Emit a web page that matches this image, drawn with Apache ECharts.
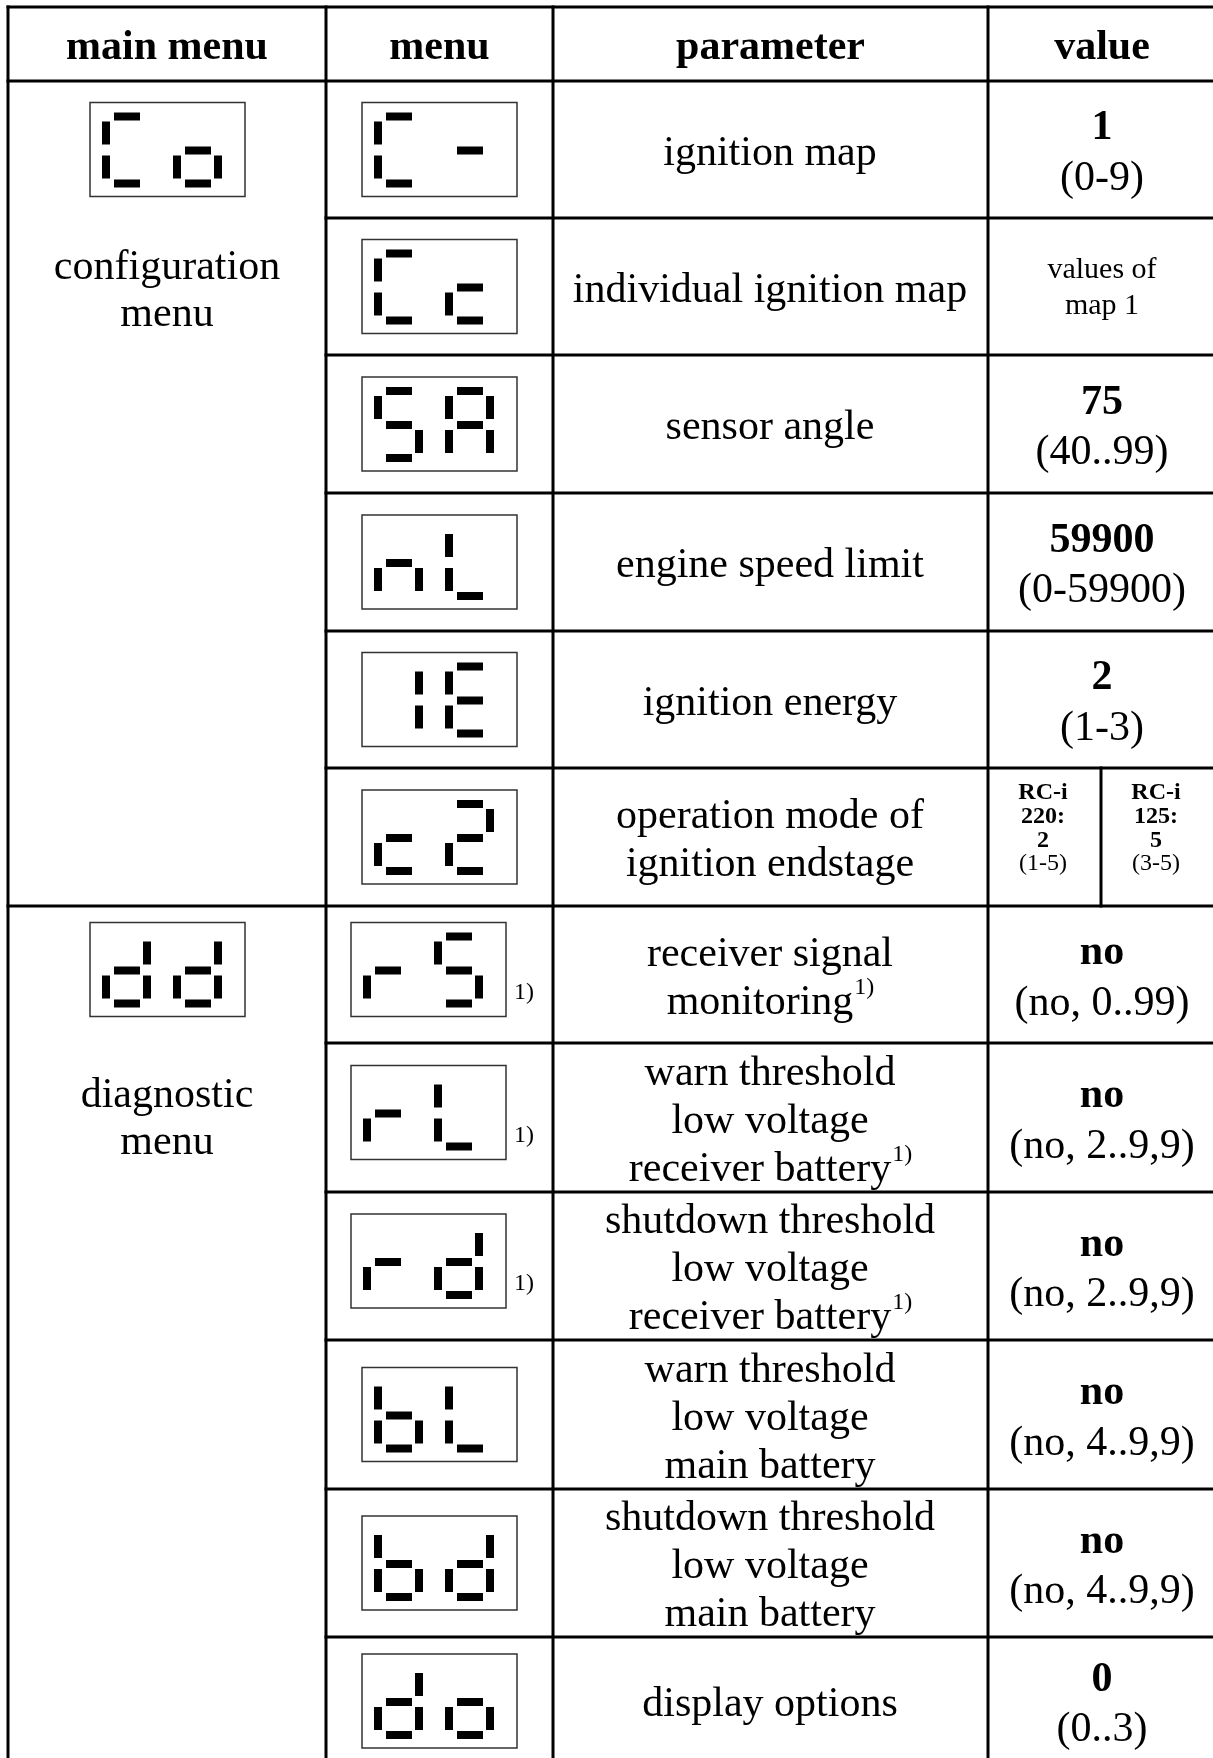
<!DOCTYPE html>
<html><head><meta charset="utf-8">
<script src="https://cdn.jsdelivr.net/npm/echarts@6/dist/echarts.min.js"></script>
<style>html,body{margin:0;padding:0;background:#fff}#c{width:1213px;height:1758px}</style>
</head><body><div id="c"></div>
<script>
// ---------- data ----------
const headers = ['main menu', 'menu', 'parameter', 'value'];
const mainMenuCodes = ['Co', 'dd'];
const mainMenuLabels = [['configuration', 'menu'], ['diagnostic', 'menu']];
const mainMenuFirstRow = [0, 6];
const menuCodes = ['C-', 'Cc', 'SA', 'nL', 'IE', 'c2', 'rS', 'rL', 'rd', 'bL', 'bd', 'do'];
const menuFootnote = [0, 0, 0, 0, 0, 0, 1, 1, 1, 0, 0, 0];
const parameterLines = [
  ['ignition map'],
  ['individual ignition map'],
  ['sensor angle'],
  ['engine speed limit'],
  ['ignition energy'],
  ['operation mode of', 'ignition endstage'],
  ['receiver signal', 'monitoring'],
  ['warn threshold', 'low voltage', 'receiver battery'],
  ['shutdown threshold', 'low voltage', 'receiver battery'],
  ['warn threshold', 'low voltage', 'main battery'],
  ['shutdown threshold', 'low voltage', 'main battery'],
  ['display options']
];
const parameterFootnote = [0, 0, 0, 0, 0, 0, 1, 1, 1, 0, 0, 0];
const valueDefaults = ['1', null, '75', '59900', '2', null, 'no', 'no', 'no', 'no', 'no', '0'];
const valueRanges = ['(0-9)', null, '(40..99)', '(0-59900)', '(1-3)', null, '(no, 0..99)', '(no, 2..9,9)', '(no, 2..9,9)', '(no, 4..9,9)', '(no, 4..9,9)', '(0..3)'];
const valueNoteRow = 1;
const valueNoteLines = ['values of', 'map 1'];
const variantRow = 5;
const variantNames = [['RC-i', '220:'], ['RC-i', '125:']];
const variantDefaults = ['2', '5'];
const variantRanges = ['(1-5)', '(3-5)'];
const footnoteMark = '1)';
// seven-segment glyphs (segments a..g)
const glyphSegments = {
  'C': 'afed', '-': 'g', 'c': 'ged', 'o': 'gecd', 'S': 'afgcd', 'A': 'abcefg',
  'n': 'egc', 'L': 'fed', 'I': 'bc', 'E': 'afged', '2': 'abged', 'r': 'ge',
  'd': 'bgecd', 'b': 'fgecd'
};

// ---------- layout ----------
const LAY = {
  colX: [8, 326, 553, 988, 1216],
  top: 7,
  headerBottom: 81,
  rowY: [81, 218, 355, 493, 631, 768, 906, 1043, 1192, 1340, 1489, 1637, 1765],
  splitX: 1101,
  boxW: 155, boxH: 94,
  menuBoxX: 362, menuBoxXFoot: 351,
  mainBoxX: 90,
  mainLabelOffset: [71, 79],
  footOffset: -5,
  digitX: [12, 83],
  seg: { a: [12, 10, 26, 8], b: [41, 19, 8, 23], c: [41, 53, 8, 23], d: [12, 77, 26, 8], e: [0, 53, 8, 23], f: [0, 19, 8, 23], g: [12, 44, 26, 8] },
  paramX: 770, valueX: 1102, variantX: [1043, 1156],
  lineH: 48, valueGap: 50, textDy: 4, headerY: 48
};
const SERIF = '"Liberation Serif", "Times New Roman", serif';
const F_MAIN = '42px ' + SERIF;
const F_BOLD = 'bold 42px ' + SERIF;
const F_SUP = '24px ' + SERIF;

const measureCtx = document.createElement('canvas').getContext('2d');
function textW(t, font) { measureCtx.font = font; return measureCtx.measureText(t).width; }

function txt(api, x, y, t, font, align) {
  const p = api.coord([x, y]);
  return { type: 'text', style: { text: t, x: p[0], y: p[1], font: font, fill: '#000',
    textAlign: align || 'center', textVerticalAlign: 'middle', align: align || 'center', verticalAlign: 'middle' } };
}
function rect(api, x, y, w, h, style) {
  const p0 = api.coord([x, y]), p1 = api.coord([x + w, y + h]);
  return { type: 'rect', shape: { x: p0[0], y: p0[1], width: p1[0] - p0[0], height: p1[1] - p0[1] }, style: style };
}
function display(api, bx, by, code) {
  const ch = [rect(api, bx, by, LAY.boxW, LAY.boxH, { fill: '#fff', stroke: '#333', lineWidth: 1.5 })];
  for (let i = 0; i < code.length; i++) {
    const segs = glyphSegments[code[i]] || '';
    for (const s of segs) {
      const r = LAY.seg[s];
      ch.push(rect(api, bx + LAY.digitX[i] + r[0], by + r[1], r[2], r[3], { fill: '#000' }));
    }
  }
  return ch;
}
function rowCenter(i) { return (LAY.rowY[i] + LAY.rowY[i + 1]) / 2; }
function boxTop(i) { return rowCenter(i) - LAY.boxH / 2 + (menuFootnote[i] ? LAY.footOffset : 0); }

// ---------- grid lines ----------
const lineData = [];
const X = LAY.colX, R = LAY.rowY, last = R[R.length - 1];
lineData.push([X[0], LAY.top, X[4], LAY.top]);
lineData.push([X[0], LAY.headerBottom, X[4], LAY.headerBottom]);
X.slice(0, 4).forEach(x => lineData.push([x, LAY.top, x, last]));
R.slice(1, R.length - 1).forEach(y => {
  const full = mainMenuFirstRow.some(r => r > 0 && R[r] === y);
  lineData.push([full ? X[0] : X[1], y, X[4], y]);
});
lineData.push([LAY.splitX, R[variantRow], LAY.splitX, R[variantRow + 1]]);

const chart = echarts.init(document.getElementById('c'), null, { renderer: 'canvas' });
chart.setOption({
  animation: false,
  backgroundColor: '#fff',
  grid: { left: 0, right: 0, top: 0, bottom: 0 },
  xAxis: { type: 'value', min: 0, max: 1213, show: false },
  yAxis: { type: 'value', min: 0, max: 1758, inverse: true, show: false },
  series: [
    {
      type: 'custom', name: 'lines', clip: false, silent: true,
      data: lineData,
      renderItem: function (params, api) {
        const d = lineData[params.dataIndex];
        const p0 = api.coord([d[0], d[1]]), p1 = api.coord([d[2], d[3]]);
        return { type: 'line', shape: { x1: p0[0], y1: p0[1], x2: p1[0], y2: p1[1] },
          style: { stroke: '#000', lineWidth: 3, lineCap: 'square' } };
      }
    },
    {
      type: 'custom', name: 'header', clip: false, silent: true,
      data: headers.map((h, i) => [i]),
      renderItem: function (params, api) {
        const i = params.dataIndex;
        const cx = i < 3 ? (X[i] + X[i + 1]) / 2 : LAY.valueX;
        return txt(api, cx, LAY.headerY, headers[i], F_BOLD);
      }
    },
    {
      type: 'custom', name: 'main menu', clip: false, silent: true,
      data: mainMenuCodes.map((c, i) => [i]),
      renderItem: function (params, api) {
        const i = params.dataIndex;
        const r = mainMenuFirstRow[i];
        const by = boxTop(r);
        const ch = display(api, LAY.mainBoxX, by, mainMenuCodes[i]);
        const cx = (X[0] + X[1]) / 2;
        mainMenuLabels[i].forEach((t, k) => ch.push(txt(api, cx, by + LAY.boxH + LAY.mainLabelOffset[i] + k * 47, t, F_MAIN)));
        return { type: 'group', children: ch };
      }
    },
    {
      type: 'custom', name: 'rows', clip: false, silent: true,
      data: menuCodes.map((c, i) => [i]),
      renderItem: function (params, api) {
        const i = params.dataIndex;
        const cy = rowCenter(i) + LAY.textDy;
        const by = boxTop(i);
        const bx = menuFootnote[i] ? LAY.menuBoxXFoot : LAY.menuBoxX;
        const ch = display(api, bx, by, menuCodes[i]);
        if (menuFootnote[i]) ch.push(txt(api, bx + LAY.boxW + 8, by + 70, footnoteMark, F_SUP, 'left'));
        // parameter
        const lines = parameterLines[i];
        const y0 = cy - (lines.length - 1) * LAY.lineH / 2;
        lines.forEach((t, k) => {
          const y = y0 + k * LAY.lineH;
          if (parameterFootnote[i] && k === lines.length - 1) {
            const w = textW(t, F_MAIN), sw = textW(footnoteMark, F_SUP);
            const sx = LAY.paramX - (w + sw) / 2;
            ch.push(txt(api, sx, y, t, F_MAIN, 'left'));
            ch.push(txt(api, sx + w + 1, y - 15, footnoteMark, F_SUP, 'left'));
          } else {
            ch.push(txt(api, LAY.paramX, y, t, F_MAIN));
          }
        });
        // value
        if (valueDefaults[i] !== null) {
          ch.push(txt(api, LAY.valueX, cy - LAY.valueGap / 2, valueDefaults[i], F_BOLD));
          ch.push(txt(api, LAY.valueX, cy + LAY.valueGap / 2, valueRanges[i], F_MAIN));
        } else if (i === valueNoteRow) {
          valueNoteLines.forEach((t, k) => ch.push(txt(api, LAY.valueX, cy - 2 - 18 + k * 36, t, '30px ' + SERIF)));
        } else if (i === variantRow) {
          for (let v = 0; v < 2; v++) {
            const vx = LAY.variantX[v];
            const parts = [[variantNames[v][0], true], [variantNames[v][1], true], [variantDefaults[v], true], [variantRanges[v], false]];
            parts.forEach((p, k) => ch.push(txt(api, vx, rowCenter(i) - 44 + k * 23.7, p[0], (p[1] ? 'bold ' : '') + '24px ' + SERIF)));
          }
        }
        return { type: 'group', children: ch };
      }
    }
  ]
});
</script></body></html>
